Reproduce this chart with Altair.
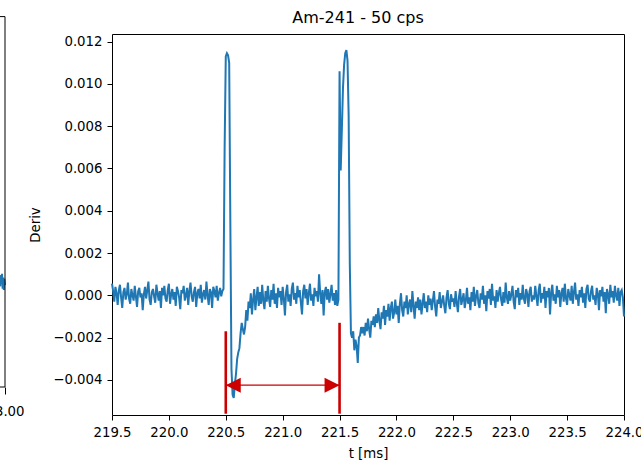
import altair as alt
import pandas as pd

# Scope trace sampling grid (ms)
T_START = 219.50
T_STEP = 0.01

# Derivative samples in units of 1e-5, one per 0.01 ms
baseline_pre = [
    55, 20, -30, 40, 10, -45, 25, 50, -10, -60,
    15, 35, -20, 5, 60, -15, -40, 30, 0, -25,
    45, -5, -55, 20, 35, -10, 10, -70, 5, 40,
    -15, 25, 65, -20, -45, 15, 30, -5, -35, 50,
    10, -25, 20, -60, 35, 0, 45, -15, -30, 25,
    55, -40, 5, 30, -20, 15, -50, 40, 20, -10,
    -65, 25, 10, 45, -25, 0, 35, -45, 20, 60,
    -5, -30, 15, 40, -55, 10, 30, -15, 50, -35,
    5, 25, -20, 65, 0, -45, 30, 15, -60, 40,
    20, -10, 45, -25, 10, 35, -5, 20,
]
pulse_first = [
    30, 700, 1130, 1145, 1135, 1100, 350, -350, -470, -485,
    -420, -370, -300, -270, -250, -180, -130, -160, -185, -150,
    -70, -120, -30,
]
baseline_mid = [
    -60, 10, -90, -20, 30, -70, -10, 40, -50, 15,
    -40, 50, -25, -65, 20, -30, 45, -15, -55, 25,
    -20, 55, -40, 10, -60, 35, -10, 20, -45, 40,
    -15, -95, 15, 50, -30, 5, -50, 30, 60, -20,
    10, -40, 45, -10, 25, -35, -90, 20, 50, -15,
    30, -45, 10, 55, -25, 5, -50, 35, -5, 20,
    -30, 100, 10, -40, 25, -95, 15, 40, -20, 30,
    -35, 5, 50, -25, 10, -45, 25, -50, -20,
]
pulse_second = [
    1060, 590, 780, 980, 1090, 1145, 1160, 1110, 850, 150,
    -180, -200, -170, -260, -210, -240, -320, -200, -190, -150,
    -180,
]
tail_recovery = [
    -150, -190, -130, -170, -110, -160, -200, -120, -140, -100,
    -150, -90, -130, -60, -120, -160, -80, -110, -50, -140,
    -70, -100, -40, -120, -60, -30, -110, -80, -20, -90,
    -50, -130, -40, 10, -70, -100, -30, -60, 0, -90,
    -40, -20, -80, 20, -50, -110, -30, -60, -10, -70,
    -20, -90, -40, 10, -60, -30, -80, 0, -45, -15,
    -70, -25, 20, -55, -100, -20, -40, 15, -60, -30,
    0, -50, -85, -10, 25, -40, -65, 5, -30, -15,
    -55, 20, -35, -80, -5, 30, -45, -20, 10, -60,
    -25, 35, -40, -10, -70, 15, -30, 40, -50, -5,
    25, -35, -60, 10, -20, 45, -40, 0, -75, 20,
    -15, 30, -45, 55, -25, -5, -60, 25, -30, 10,
    40, -20, -50, 15, -35, 60, -10, -40, 20, -25,
    5, 45, -30, -65, 25, -10, 35, -45, 10, -20,
    50, -15, -40, 30, 5, -55, 20, 40, -30, 0,
    -20, 45, -5, -50, 25, 55, -35, 10, -15, 40,
    -60, 20, -10, 35, -90, 15, 50, -25, 5, -40,
    45, -10, 25, -55, 10, 35, -30, 55, -15, -45,
    30, 0, -25, 45, -40, 15, 60, -20, 5, -50,
    25, -10, 40, -35, 10, -60, 30, 50, -15, -30,
    20, 45, -20, 0, -45, 35, 10, -70, 25, -5,
    40, -30, 15, -85, 30, 5, -40, 50, -10, 20,
    -35, 45, 0, -25, 35, -50, 15, 25, -10, -100,
]

# Neighbouring panel: end of its trace and its frame limits
prev_t = [22.89, 22.90, 22.91, 22.92, 22.93, 22.94, 22.95, 22.96, 22.97, 22.98, 22.99, 23.00]
prev_deriv_e5 = [10, -20, 25, -15, 30, -5, 35, -25, 20, -30, 15, -10]
prev_t_range = [22.0, 23.0]
prev_y_range = [-0.0042, 0.0100]
prev_frame_top = 0.0107

# Pulse spacing markers
marker_t = [220.5, 221.5]
marker_top = [-0.0017, -0.0013]
marker_bottom = [-0.0056, -0.0056]
arrow_y = -0.00425

x_ticks = [219.5, 220.0, 220.5, 221.0, 221.5, 222.0, 222.5, 223.0, 223.5, 224.0]
y_ticks = [-0.004, -0.002, 0.0, 0.002, 0.004, 0.006, 0.008, 0.010, 0.012]

FONT = "DejaVu Sans"
BLUE = "#1f77b4"
RED = "#cc0000"

deriv_e5 = baseline_pre + pulse_first + baseline_mid + pulse_second + tail_recovery
trace = pd.DataFrame({
    "t": [round(T_START + i * T_STEP, 2) for i in range(len(deriv_e5))],
    "deriv": [v * 1e-5 for v in deriv_e5],
})
markers = pd.DataFrame({"t": marker_t, "deriv": marker_top, "deriv2": marker_bottom})
shaft = pd.DataFrame({"t": [marker_t[0]], "t2": [marker_t[1]], "deriv": [arrow_y]})
head_left = pd.DataFrame({"t": [marker_t[0]], "deriv": [arrow_y]})
head_right = pd.DataFrame({"t": [marker_t[1]], "deriv": [arrow_y]})
prev = pd.DataFrame({"t": prev_t, "deriv": [v * 1e-5 for v in prev_deriv_e5]})

# ---- main panel ----
x_scale = alt.Scale(domain=[219.5, 224.0], nice=False, zero=False)
y_scale = alt.Scale(domain=[-0.00566, 0.01236], nice=False, zero=False)
x_axis = alt.Axis(values=x_ticks, format=".1f", title="t [ms]", grid=False, domain=False,
                  tickSize=5, labelPadding=5, labelFlush=False, labelOverlap=False,
                  titlePadding=8)
y_axis = alt.Axis(values=y_ticks, format=".3f", title="Deriv", grid=False, domain=False,
                  tickSize=5, labelPadding=5, labelOverlap=False, titlePadding=10)

X = alt.X("t:Q", scale=x_scale, axis=x_axis)
Y = alt.Y("deriv:Q", scale=y_scale, axis=y_axis)

line = alt.Chart(trace).mark_line(color=BLUE, strokeWidth=2).encode(x=X, y=Y)
vlines = alt.Chart(markers).mark_rule(color=RED, strokeWidth=2.6).encode(
    x=X, y=Y, y2="deriv2:Q")
arrow_shaft = alt.Chart(shaft).mark_rule(color=RED, strokeWidth=1.3).encode(
    x=X, x2="t2:Q", y=Y)
arrow_left = alt.Chart(head_left).mark_point(
    shape="M0,0L2,-1L2,1Z", size=225, filled=True, color=RED, opacity=1, strokeWidth=0
).encode(x=X, y=Y)
arrow_right = alt.Chart(head_right).mark_point(
    shape="M0,0L-2,-1L-2,1Z", size=225, filled=True, color=RED, opacity=1, strokeWidth=0
).encode(x=X, y=Y)

main = alt.layer(line, vlines, arrow_shaft, arrow_left, arrow_right).properties(
    width=512, height=381,
    title=alt.TitleParams("Am-241 - 50 cps", fontSize=16, offset=8, dx=-10,
                          anchor="middle", font=FONT, fontWeight="normal", color="black"),
)

# ---- neighbouring panel (only its right edge is in view) ----
px_scale = alt.Scale(domain=prev_t_range, nice=False, zero=False)
py_scale = alt.Scale(domain=prev_y_range, nice=False, zero=False)
PX = alt.X("t:Q", scale=px_scale,
           axis=alt.Axis(values=[prev_t_range[1]], format=".2f", title=None, grid=False,
                         domain=False, tickSize=7, labelPadding=10, labelFlush=False))
PY = alt.Y("deriv:Q", scale=py_scale, axis=None)

frame = pd.DataFrame({
    "t": [prev_t_range[1], prev_t_range[0], prev_t_range[0]],
    "t2": [prev_t_range[1], prev_t_range[1], prev_t_range[1]],
    "deriv": [prev_y_range[0], prev_frame_top, prev_y_range[0]],
    "deriv2": [prev_frame_top, prev_frame_top, prev_y_range[0]],
})
prev_line = alt.Chart(prev).mark_line(color=BLUE, strokeWidth=2).encode(x=PX, y=PY)
prev_frame = alt.Chart(frame).mark_rule(color="black", strokeWidth=1).encode(
    x=PX, x2="t2:Q", y=PY, y2="deriv2:Q")

left = alt.layer(prev_line, prev_frame).properties(
    width=60, height=353, view=alt.ViewBackground(stroke=None))

chart = alt.hconcat(left, main, spacing=3).properties(
    padding={"left": -56, "top": 9, "right": -3, "bottom": 0}
).configure_view(
    stroke="black", strokeWidth=1
).configure_axis(
    labelFont=FONT, labelFontSize=13.3, labelColor="black",
    titleFont=FONT, titleFontSize=13.3, titleFontWeight="normal", titleColor="black",
    tickColor="black", tickWidth=1,
)

chart.save("out.html", embed_options={"renderer": "svg", "actions": False})
